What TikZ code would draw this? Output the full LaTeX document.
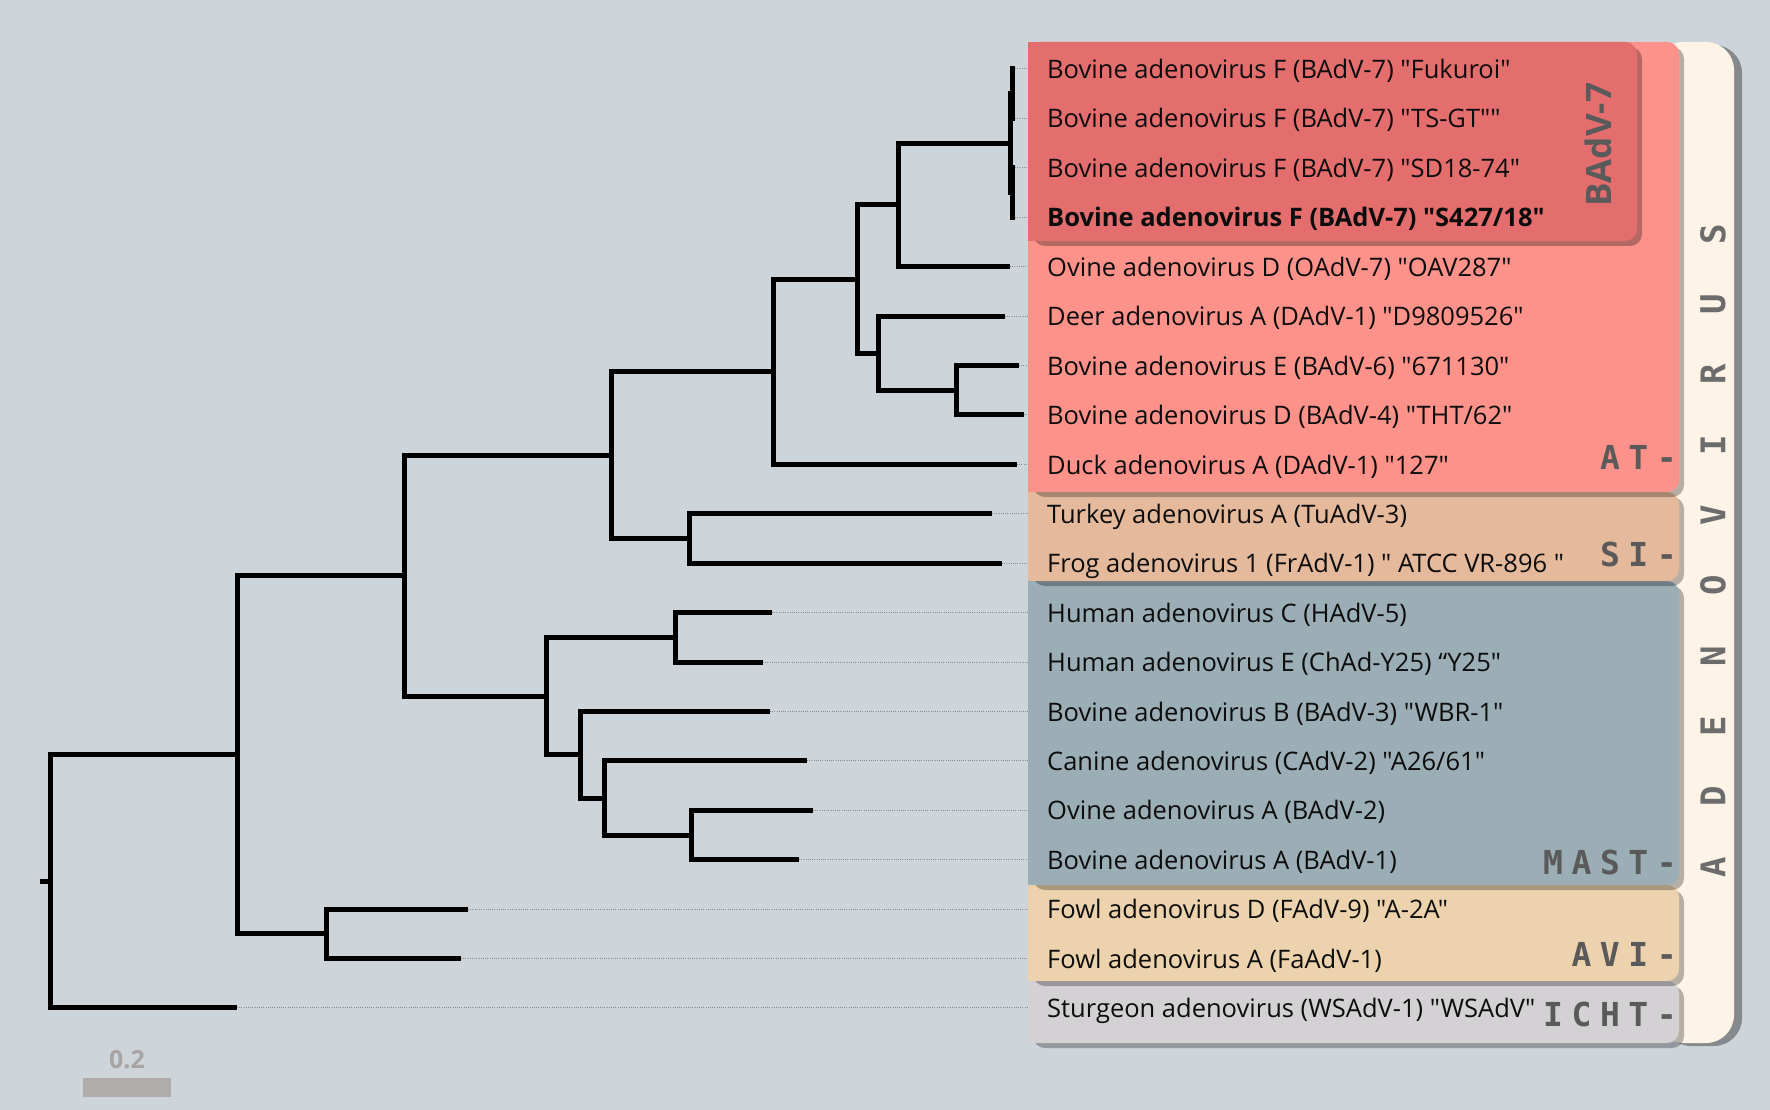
\documentclass[tikz,border=0pt]{standalone}
\usepackage{fontspec}
\setmainfont{Open Sans}[Ligatures=TeXOff]
\newfontfamily\monofnt{DejaVu Sans Mono}
\usetikzlibrary{shadows}
\definecolor{bgcol}{RGB}{205,213,219}
\definecolor{creamcol}{RGB}{253,243,231}
\definecolor{atcol}{RGB}{253,146,138}
\definecolor{badvcol}{RGB}{228,109,110}
\definecolor{sicol}{RGB}{229,186,156}
\definecolor{mastcol}{RGB}{155,174,181}
\definecolor{avicol}{RGB}{236,211,173}
\definecolor{ichtcol}{RGB}{211,209,211}
\definecolor{grptext}{RGB}{90,90,90}
\definecolor{vtext}{RGB}{108,108,108}
\definecolor{scalecol}{RGB}{176,172,171}
\definecolor{scaletext}{RGB}{168,164,163}
\newcommand{\gk}{\kern8.6pt}
\begin{document}
\begin{tikzpicture}[x=1pt,y=-1pt,
  branch/.style={line width=5pt, draw=black},
  leader/.style={draw=black!45, line width=1pt, dash pattern=on 1pt off 1.2pt},
  taxon/.style={anchor=base west, inner sep=0pt, font=\fontsize{25.5}{30}\selectfont, text=black!95},
  grplab/.style={anchor=base east, inner sep=0pt, font=\monofnt\bfseries\fontsize{33}{36}\selectfont, text=grptext},
  vlet/.style={rotate=90, inner sep=0pt, font=\monofnt\bfseries\fontsize{34}{36}\selectfont, text=vtext},
  boxshadow/.style={drop shadow={shadow xshift=5pt, shadow yshift=-5pt, opacity=0.28, fill=black}}
]
% background / bounding box
\fill[bgcol] (0,0) rectangle (1770,1110);
\useasboundingbox (0,0) rectangle (1770,1110);

% ---------- leaf tips ----------
\foreach \i/\x in {1/1015,2/1015,3/1015,4/1015,5/1010,6/1005,7/1019,8/1024,9/1017,10/992,
                   11/1002,12/772,13/763,14/770,15/807,16/813,17/799,18/468,19/461,20/237}{
  \coordinate (t\i) at (\x,{69+(\i-1)*49.42});
  \coordinate (e\i) at (1028,{69+(\i-1)*49.42});
}
% leaders
\foreach \i in {1,...,20}{ \draw[leader] (t\i) -- (e\i); }

% ---------- internal nodes ----------
\coordinate (rootstub) at (40,881.3);
\coordinate (root) at (50,881.3);
\coordinate (A) at (237,754.7);
\coordinate (B) at (404,575.5);
\coordinate (C) at (611,455.1);
\coordinate (D) at (773,371.7);
\coordinate (E) at (857,279);
\coordinate (F) at (898,204.9);
\coordinate (H) at (1010,143.1);
\coordinate (H1) at (1012.5,93.7);
\coordinate (H2) at (1012.5,192.5);
\coordinate (G) at (878,353.2);
\coordinate (G2) at (956,390.2);
\coordinate (SI) at (689,538.5);
\coordinate (MAST) at (546,696);
\coordinate (M1) at (675,637.3);
\coordinate (M2) at (580,754.7);
\coordinate (M3) at (604,798);
\coordinate (M4) at (691,835);
\coordinate (AVI) at (326,933.8);

% ---------- branches ----------
\draw[branch] (rootstub) -- (root);
\draw[branch] (root) |- (A);
\draw[branch] (root) |- (t20);
\draw[branch] (A) |- (B);
\draw[branch] (A) |- (AVI);
\draw[branch] (AVI) |- (t18);
\draw[branch] (AVI) |- (t19);
\draw[branch] (B) |- (C);
\draw[branch] (B) |- (MAST);
\draw[branch] (C) |- (D);
\draw[branch] (C) |- (SI);
\draw[branch] (SI) |- (t10);
\draw[branch] (SI) |- (t11);
\draw[branch] (D) |- (E);
\draw[branch] (D) |- (t9);
\draw[branch] (E) |- (F);
\draw[branch] (E) |- (G);
\draw[branch] (F) |- (H);
\draw[branch] (F) |- (t5);
\draw[branch] (H) |- (H1);
\draw[branch] (H) |- (H2);
\draw[branch] (H1) |- (t1);
\draw[branch] (H1) |- (t2);
\draw[branch] (H2) |- (t3);
\draw[branch] (H2) |- (t4);
\draw[branch] (G) |- (t6);
\draw[branch] (G) |- (G2);
\draw[branch] (G2) |- (t7);
\draw[branch] (G2) |- (t8);
\draw[branch] (MAST) |- (M1);
\draw[branch] (MAST) |- (M2);
\draw[branch] (M1) |- (t12);
\draw[branch] (M1) |- (t13);
\draw[branch] (M2) |- (t14);
\draw[branch] (M2) |- (M3);
\draw[branch] (M3) |- (t15);
\draw[branch] (M3) |- (M4);
\draw[branch] (M4) |- (t16);
\draw[branch] (M4) |- (t17);

% ---------- genus band ----------
\fill[creamcol, rounded corners=28pt, drop shadow={shadow xshift=8pt, shadow yshift=-3pt, opacity=0.5, fill=black!75}] (1655,42) rectangle (1734,1043);

% ---------- group boxes (bottom to top) ----------
\fill[ichtcol, boxshadow, rounded corners=12pt] (1028,981) rectangle (1679,1043);
\fill[ichtcol] (1028,981) rectangle (1060,1043);
\fill[avicol, boxshadow, rounded corners=12pt] (1028,885) rectangle (1679,981);
\fill[avicol] (1028,885) rectangle (1060,981);
\fill[mastcol, boxshadow, rounded corners=12pt] (1028,581) rectangle (1679,885);
\fill[mastcol] (1028,581) rectangle (1060,885);
\fill[sicol, boxshadow, rounded corners=12pt] (1028,492) rectangle (1679,581);
\fill[sicol] (1028,492) rectangle (1060,581);
\fill[atcol, boxshadow, rounded corners=12pt] (1028,42) rectangle (1679,492);
\fill[atcol] (1028,42) rectangle (1060,492);
\fill[badvcol, boxshadow, rounded corners=12pt] (1028,42) rectangle (1637,241);
\fill[badvcol] (1028,42) rectangle (1060,241);

% ---------- taxon labels ----------
\node[taxon] (n1) at (1047,78.6) {Bovine adenovirus F (BAdV-7) "Fukuroi"};
\node[taxon] (n2) at (1047,128.0) {Bovine adenovirus F (BAdV-7) "TS-GT""};
\node[taxon] (n3) at (1047,177.4) {Bovine adenovirus F (BAdV-7) "SD18-74"};
\node[taxon, font=\bfseries\fontsize{25.5}{30}\selectfont] (n4) at (1047,226.9) {Bovine adenovirus F (BAdV-7) "S427/18"};
\node[taxon] (n5) at (1047,276.3) {Ovine adenovirus D (OAdV-7) "OAV287"};
\node[taxon] (n6) at (1047,325.7) {Deer adenovirus A (DAdV-1) "D9809526"};
\node[taxon] (n7) at (1047,375.1) {Bovine adenovirus E (BAdV-6) "671130"};
\node[taxon] (n8) at (1047,424.5) {Bovine adenovirus D (BAdV-4) "THT/62"};
\node[taxon] (n9) at (1047,474.0) {Duck adenovirus A (DAdV-1) "127"};
\node[taxon] (n10) at (1047,523.4) {Turkey adenovirus A (TuAdV-3)};
\node[taxon] (n11) at (1047,572.8) {Frog adenovirus 1 (FrAdV-1) " ATCC VR-896 "};
\node[taxon] (n12) at (1047,622.2) {Human adenovirus C (HAdV-5)};
\node[taxon] (n13) at (1047,671.6) {Human adenovirus E (ChAd-Y25) “Y25"};
\node[taxon] (n14) at (1047,721.1) {Bovine adenovirus B (BAdV-3) "WBR-1"};
\node[taxon] (n15) at (1047,770.5) {Canine adenovirus (CAdV-2) "A26/61"};
\node[taxon] (n16) at (1047,819.9) {Ovine adenovirus A (BAdV-2)};
\node[taxon] (n17) at (1047,869.3) {Bovine adenovirus A (BAdV-1)};
\node[taxon] (n18) at (1047,918.7) {Fowl adenovirus D (FAdV-9) "A-2A"};
\node[taxon] (n19) at (1047,968.2) {Fowl adenovirus A (FaAdV-1)};
\node[taxon] (n20) at (1047,1017.6) {Sturgeon adenovirus (WSAdV-1) "WSAdV"};

% ---------- group labels ----------
\node[grplab] (gAT) at (1677,469) {A\gk T\gk -};
\node[grplab] (gSI) at (1677,566) {S\gk I\gk -};
\node[grplab] (gMAST) at (1677,874) {M\gk A\gk S\gk T\gk -};
\node[grplab] (gAVI) at (1677,966) {A\gk V\gk I\gk -};
\node[grplab] (gICHT) at (1677,1026) {I\gk C\gk H\gk T\gk -};

\node[rotate=90, inner sep=0pt, font=\bfseries\fontsize{35}{40}\selectfont, text=grptext] (badvlab) at (1598,144.5) {BAdV-7};

\foreach \L [count=\k from 0] in {A,D,E,N,O,V,I,R,U,S}{
  \node[vlet] (adv\k) at (1713,{867-70.33*\k}) {\L};
}

% ---------- scale ----------
\node[fill=scalecol, minimum width=88pt, minimum height=19pt, inner sep=0pt] (scalebar) at (127,1087.5) {};
\node[anchor=base, inner sep=0pt, font=\bfseries\fontsize{25}{28}\selectfont, text=scaletext] (scalelab) at (scalebar.north |- 0,1068) {0.2};
\end{tikzpicture}
\end{document}
